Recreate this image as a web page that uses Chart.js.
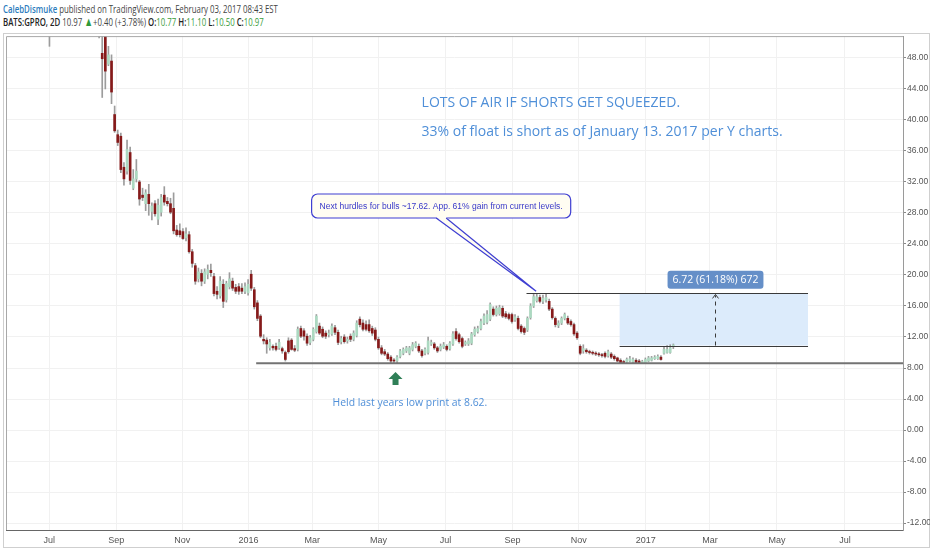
<!DOCTYPE html>
<html>
<head>
<meta charset="utf-8">
<title>GPRO 2D</title>
<script src="https://cdn.jsdelivr.net/npm/chart.js@4.4.1/dist/chart.umd.min.js"></script>
<style>
    html, body { margin: 0; padding: 0; background: #fff; }
    body { width: 932px; height: 550px; position: relative; overflow: hidden;
        font-family: "Open Sans", "Liberation Sans", Arial, sans-serif; }
    #head { position: absolute; left: 3px; top: 2px; font-size: 11.5px; line-height: 13px; color: #444; white-space: nowrap;
        transform: scaleX(0.68); transform-origin: 0 0; }
    #head .user { color: #2b7bbd; font-weight: 600; }
    #head b { color: #222; font-weight: 600; }
    #head .g { color: #3a9d3a; }
    #head .tri { color: #2f9a3a; font-size: 13px; }
    #frame { position: absolute; left: 3px; top: 33px; width: 927px; height: 515px; border: 1px solid #cfcfcf; box-sizing: border-box; }
    #wrap { position: absolute; left: 3px; top: 30px; width: 927px; height: 518px; }
</style>
</head>
<body>
<div id="head">
    <div><span class="user">CalebDismuke</span> published on TradingView.com, February 03, 2017 08:43 EST</div>
    <div id="quote"></div>
</div>
<div id="frame"></div>
<div id="wrap"><canvas id="chart"></canvas></div>
<script>
// 2-day GPRO candles, bar index 0 = left edge of the chart
const firstBar = 0;
const opens = [
    53.0, 53.6, 54.8, 55.3, 54.5, 56.1, 57.3, 58.4, 58.0, 56.6, 57.1, 55.4, 54.0, 52.9, 51.9, 52.6, 54.1, 55.8, 57.6, 59.4,
    61.2, 63.0, 63.8, 62.4, 60.7, 59.9, 58.3, 57.0, 55.7, 54.3, 53.1, 48.6, 51.4, 47.2, 47.6, 40.7, 38.1, 37.9, 33.9, 33.4,
    35.8, 31.2, 32.4, 32.0, 30.3, 29.2, 30.4, 28.2, 29.2, 27.2, 28.1, 30.3, 29.5, 29.2, 28.6, 25.8, 25.7, 25.6, 24.8, 25.2,
    23.0, 21.2, 19.5, 20.2, 19.2, 20.1, 20.6, 19.8, 17.9, 17.3, 18.8, 16.8, 18.5, 19.2, 18.4, 18.5, 18.3, 17.9, 17.7, 20.1,
    18.1, 16.4, 14.7, 11.7, 11.6, 10.6, 10.8, 10.8, 10.6, 10.5, 10.0, 11.5, 11.6, 10.5, 10.4, 13.1, 12.8, 12.1, 11.3, 11.7,
    12.7, 13.4, 13.0, 12.5, 12.3, 12.4, 13.2, 12.6, 11.4, 12.0, 11.5, 12.1, 11.7, 12.2, 14.3, 13.8, 13.6, 13.6, 13.1, 12.9,
    11.7, 10.6, 10.1, 9.8, 9.4, 9.0, 8.9, 9.5, 9.9, 10.2, 9.9, 10.4, 10.8, 10.8, 10.2, 9.9, 10.0, 11.1, 11.1, 10.6,
    10.4, 10.7, 10.8, 10.5, 11.1, 12.7, 12.3, 11.8, 11.1, 11.1, 11.2, 12.3, 12.7, 13.1, 13.8, 13.9, 14.3, 15.6, 14.9, 15.0,
    15.7, 15.0, 14.9, 14.9, 14.2, 14.4, 13.4, 13.1, 12.9, 14.5, 16.0, 16.7, 17.1, 16.6, 16.8, 16.6, 15.6, 14.4, 13.5, 13.8,
    14.4, 14.4, 14.0, 13.6, 12.5, 10.8, 10.2, 10.3, 10.1, 10.0, 9.9, 9.8, 9.7, 9.9, 9.6, 9.8, 9.5, 9.3, 9.0, 8.8,
    8.8, 8.9, 8.8, 9.0, 8.9, 8.7, 8.7, 8.9, 9.0, 9.2, 9.2, 9.4, 9.9, 10.0, 10.0, 10.77
];
const highs = [
    54.4, 55.2, 56.0, 55.9, 56.6, 57.8, 58.9, 59.6, 58.3, 57.5, 57.4, 55.9, 54.6, 53.5, 53.2, 54.6, 56.2, 58.0, 59.9, 61.7,
    63.6, 64.9, 64.4, 62.9, 61.3, 60.4, 58.8, 57.6, 56.2, 55.0, 54.5, 51.8, 52.4, 49.5, 48.4, 41.8, 38.7, 38.3, 34.5, 37.4,
    36.5, 33.6, 34.9, 32.2, 31.2, 31.0, 31.7, 29.3, 29.6, 29.8, 30.4, 31.4, 30.0, 29.9, 30.6, 26.4, 26.6, 26.0, 26.1, 25.6,
    23.3, 21.5, 20.9, 20.7, 20.8, 21.3, 21.4, 20.2, 18.5, 19.8, 19.4, 19.2, 20.3, 19.6, 18.8, 18.9, 18.9, 19.0, 19.4, 20.6,
    18.4, 16.7, 14.9, 12.3, 11.9, 11.7, 11.0, 11.2, 11.7, 10.7, 10.2, 11.9, 11.8, 10.9, 13.3, 13.4, 13.1, 12.4, 12.2, 13.2,
    14.9, 13.8, 13.3, 12.8, 12.9, 13.7, 13.5, 12.9, 12.1, 12.3, 12.0, 12.4, 12.8, 14.1, 14.6, 14.2, 14.1, 14.2, 13.4, 13.2,
    12.0, 10.9, 10.4, 10.0, 9.6, 9.2, 9.6, 10.4, 10.6, 10.8, 10.8, 11.3, 11.4, 11.1, 10.4, 10.6, 12.0, 11.6, 11.3, 10.8,
    11.1, 11.3, 11.0, 11.4, 12.7, 13.1, 12.5, 12.0, 11.5, 11.8, 12.6, 13.3, 13.4, 14.3, 15.0, 15.4, 16.4, 15.9, 16.0, 16.1,
    16.0, 15.3, 15.1, 15.1, 14.9, 14.7, 13.6, 13.3, 14.6, 16.3, 17.5, 17.5, 17.4, 17.4, 17.62, 16.9, 15.8, 14.6, 14.1, 14.6,
    15.1, 14.7, 14.2, 13.8, 12.7, 11.0, 11.0, 10.5, 10.3, 10.2, 10.1, 10.0, 9.9, 10.1, 10.3, 10.0, 9.7, 9.4, 9.2, 9.0,
    9.3, 9.5, 9.3, 9.2, 9.1, 9.0, 9.3, 9.5, 9.5, 9.6, 9.7, 9.6, 10.7, 10.9, 11.0, 11.10
];
const lows = [
    52.1, 53.0, 54.1, 53.9, 54.2, 55.7, 56.8, 57.6, 56.2, 55.8, 55.0, 53.6, 52.5, 51.4, 49.5, 52.2, 53.7, 55.3, 57.1, 58.9,
    60.8, 62.1, 61.9, 60.2, 59.4, 57.9, 56.6, 55.3, 53.8, 52.6, 50.6, 42.9, 44.0, 47.0, 42.1, 38.4, 36.7, 33.2, 31.6, 33.0,
    31.7, 31.0, 32.0, 29.0, 29.6, 28.3, 27.7, 27.1, 27.6, 26.5, 27.6, 29.0, 28.9, 27.9, 25.3, 25.0, 24.9, 24.6, 24.4, 22.8,
    21.0, 18.8, 19.1, 18.6, 18.9, 19.5, 19.8, 17.3, 16.9, 17.0, 15.8, 16.5, 18.2, 18.0, 17.6, 17.5, 17.6, 17.6, 17.4, 18.0,
    15.6, 14.1, 11.9, 11.1, 9.9, 10.3, 10.3, 10.2, 10.4, 9.9, 8.9, 9.9, 10.3, 10.1, 10.2, 11.9, 11.6, 10.9, 11.0, 11.5,
    12.5, 12.3, 11.9, 11.8, 12.0, 12.2, 12.3, 11.0, 11.1, 11.2, 11.2, 11.4, 11.5, 12.0, 13.3, 12.8, 12.8, 12.6, 12.2, 11.5,
    10.4, 9.7, 9.6, 9.0, 8.7, 8.62, 8.7, 9.3, 9.7, 10.0, 9.7, 10.2, 10.6, 10.0, 9.4, 9.7, 9.8, 10.9, 10.4, 10.0,
    10.2, 10.5, 10.2, 10.3, 10.9, 11.6, 11.2, 10.6, 10.9, 10.9, 11.0, 12.1, 12.5, 12.9, 13.6, 13.7, 14.1, 14.7, 14.7, 14.8,
    14.5, 14.4, 14.2, 13.8, 14.0, 12.9, 12.5, 12.3, 12.7, 14.3, 15.8, 16.5, 16.4, 16.3, 16.5, 15.4, 14.3, 13.3, 13.2, 13.6,
    14.2, 13.6, 13.4, 12.2, 11.7, 9.7, 9.9, 9.9, 9.8, 9.7, 9.6, 9.5, 9.4, 9.3, 9.4, 9.2, 9.0, 8.8, 8.62, 8.62,
    8.7, 8.8, 8.7, 8.62, 8.62, 8.62, 8.65, 8.8, 8.9, 9.1, 9.1, 9.0, 9.8, 9.9, 9.9, 10.50
];
const closes = [
    53.6, 54.8, 55.3, 54.5, 56.1, 57.3, 58.4, 58.0, 56.6, 57.1, 55.4, 54.0, 52.9, 51.9, 52.6, 54.1, 55.8, 57.6, 59.4, 61.2,
    63.0, 63.8, 62.4, 60.7, 59.9, 58.3, 57.0, 55.7, 54.3, 53.1, 52.3, 47.9, 46.3, 48.4, 43.6, 38.6, 37.1, 33.6, 32.4, 36.2,
    32.2, 32.4, 33.4, 29.8, 30.0, 30.6, 29.2, 28.9, 27.9, 29.0, 30.0, 29.4, 29.2, 28.1, 25.7, 25.2, 25.2, 24.7, 25.3, 23.0,
    21.5, 19.2, 20.4, 19.2, 20.4, 20.7, 20.3, 17.6, 17.5, 19.2, 16.6, 18.9, 19.5, 18.3, 17.9, 17.9, 17.9, 18.5, 18.8, 18.3,
    15.9, 14.4, 12.1, 11.5, 11.1, 11.3, 10.6, 10.4, 11.3, 10.2, 9.1, 10.1, 10.4, 10.3, 13.0, 12.1, 12.1, 11.2, 11.9, 13.0,
    14.7, 12.5, 12.1, 12.1, 12.5, 13.4, 12.6, 11.3, 11.8, 11.4, 11.7, 11.7, 12.5, 13.8, 13.6, 13.0, 13.0, 12.8, 12.5, 11.7,
    10.6, 9.9, 9.8, 9.2, 8.9, 8.9, 9.4, 10.2, 10.4, 10.6, 10.6, 11.0, 11.2, 10.2, 9.6, 10.4, 11.5, 11.3, 10.6, 10.2,
    10.8, 11.0, 10.4, 11.2, 12.4, 11.8, 11.4, 10.8, 11.3, 11.5, 12.4, 13.0, 13.1, 14.0, 14.7, 14.9, 16.2, 14.9, 15.7, 15.8,
    14.7, 14.6, 14.4, 14.0, 14.6, 13.1, 12.7, 12.6, 14.4, 16.0, 17.2, 17.2, 16.6, 17.0, 17.1, 15.6, 14.5, 13.6, 13.8, 14.4,
    14.9, 13.8, 13.6, 12.4, 11.9, 9.9, 10.5, 10.1, 10.0, 9.9, 9.8, 9.7, 9.6, 9.5, 10.1, 9.4, 9.2, 8.9, 8.7, 8.7,
    9.1, 9.2, 9.1, 8.7, 8.7, 8.8, 9.1, 9.3, 9.3, 9.4, 9.5, 9.1, 10.4, 10.4, 10.6, 10.97
];

// axis: month labels and the bar index each one sits on
const monthLabels = ['Jul', 'Sep', 'Nov', '2016', 'Mar', 'May', 'Jul', 'Sep', 'Nov', '2017', 'Mar', 'May', 'Jul'];
const monthBars = [13.9, 35.5, 56.8, 78.1, 98.7, 120.0, 141.6, 163.2, 184.5, 206.1, 226.8, 248.4, 270.3];
const priceTicks = [-12, -8, -4, 0, 4, 8, 12, 16, 20, 24, 28, 32, 36, 40, 44, 48];

// drawn levels
const supportLevel = 8.62;
const hurdleLevel = 17.62;
const rangeLow = 10.90;

const barIndex = closes.map((c, i) => firstBar + i);
const last = closes.length - 1;

document.getElementById('quote').innerHTML =
    '<b>BATS:GPRO, 2D</b> ' + closes[last].toFixed(2) + ' <span class="tri">&#9650;</span>+0.40 (+3.78%) ' +
    '<b>O:</b><span class="g">' + opens[last].toFixed(2) + '</span> ' +
    '<b>H:</b><span class="g">' + highs[last].toFixed(2) + '</span> ' +
    '<b>L:</b><span class="g">' + lows[last].toFixed(2) + '</span> ' +
    '<b>C:</b><span class="g">' + closes[last].toFixed(2) + '</span>';

function roundRect(ctx, x, y, w, h, r) {
    ctx.beginPath();
    ctx.moveTo(x + r, y);
    ctx.arcTo(x + w, y, x + w, y + h, r);
    ctx.arcTo(x + w, y + h, x, y + h, r);
    ctx.arcTo(x, y + h, x, y, r);
    ctx.arcTo(x, y, x + w, y, r);
    ctx.closePath();
}

const drawings = {
    id: 'drawings',
    beforeDatasetsDraw(chart) {
        const ctx = chart.ctx, xs = chart.scales.x, ys = chart.scales.y;
        // projected range box
        const x1 = xs.getPixelForValue(197.7), x2 = xs.getPixelForValue(258.4);
        ctx.save();
        ctx.fillStyle = '#dcebfb';
        ctx.fillRect(x1, ys.getPixelForValue(hurdleLevel), x2 - x1, ys.getPixelForValue(rangeLow) - ys.getPixelForValue(hurdleLevel));
        ctx.restore();
    },
    afterDatasetsDraw(chart) {
        const ctx = chart.ctx, xs = chart.scales.x, ys = chart.scales.y, area = chart.chartArea;
        const X = v => xs.getPixelForValue(v), Y = v => ys.getPixelForValue(v);
        ctx.save();

        // plot frame top / left
        ctx.strokeStyle = '#a8a8a8';
        ctx.lineWidth = 1;
        ctx.beginPath();
        ctx.moveTo(area.left + 0.5, area.bottom);
        ctx.lineTo(area.left + 0.5, area.top + 0.5);
        ctx.lineTo(area.right, area.top + 0.5);
        ctx.stroke();

        // support line
        ctx.strokeStyle = '#737373';
        ctx.lineWidth = 2;
        ctx.beginPath();
        ctx.moveTo(X(80.6), Y(supportLevel));
        ctx.lineTo(area.right, Y(supportLevel));
        ctx.stroke();

        // hurdle and range lines
        ctx.strokeStyle = '#3a3a3a';
        ctx.lineWidth = 1;
        ctx.beginPath();
        ctx.moveTo(X(167.7), Math.round(Y(hurdleLevel)) + 0.5);
        ctx.lineTo(X(258.4), Math.round(Y(hurdleLevel)) + 0.5);
        ctx.moveTo(X(197.7), Math.round(Y(rangeLow)) + 0.5);
        ctx.lineTo(X(258.4), Math.round(Y(rangeLow)) + 0.5);
        ctx.stroke();

        // dashed measure arrow
        const ax = Math.round(X(228.4)) + 0.5;
        ctx.setLineDash([4, 4]);
        ctx.beginPath();
        ctx.moveTo(ax, Y(rangeLow));
        ctx.lineTo(ax, Y(hurdleLevel) + 2);
        ctx.stroke();
        ctx.setLineDash([]);
        ctx.beginPath();
        ctx.moveTo(ax - 3, Y(hurdleLevel) + 5);
        ctx.lineTo(ax, Y(hurdleLevel) + 1);
        ctx.lineTo(ax + 3, Y(hurdleLevel) + 5);
        ctx.stroke();

        // measure label
        ctx.font = '10.5px "Open Sans", sans-serif';
        const mText = '6.72 (61.18%) 672';
        const mw = ctx.measureText(mText).width + 10;
        const my = Y(19.4);
        ctx.fillStyle = '#658fc8';
        roundRect(ctx, ax - mw / 2, my - 9, mw, 18, 3);
        ctx.fill();
        ctx.fillStyle = '#fff';
        ctx.textAlign = 'center';
        ctx.textBaseline = 'middle';
        ctx.fillText(mText, ax, my + 0.5);

        // callout
        ctx.font = '8.5px "Liberation Sans", sans-serif';
        const cText = 'Next hurdles for bulls ~17.62. App. 61% gain from current levels.';
        const cw = ctx.measureText(cText).width + 16;
        const cx = X(140.2), cy = Y(28.9);
        const bx = cx - cw / 2, by = cy - 12, bh = 24;
        const tipX = X(170.8), tipY = Y(17.9);
        ctx.fillStyle = '#fffdf2';
        ctx.strokeStyle = '#3f3fd2';
        ctx.lineWidth = 1.2;
        roundRect(ctx, bx, by, cw, bh, 6);
        ctx.fill();
        ctx.stroke();
        ctx.beginPath();
        ctx.moveTo(cx - 5, by + bh - 1);
        ctx.lineTo(tipX, tipY);
        ctx.lineTo(cx + 5, by + bh - 1);
        ctx.closePath();
        ctx.fill();
        ctx.beginPath();
        ctx.moveTo(cx - 5, by + bh);
        ctx.lineTo(tipX, tipY);
        ctx.lineTo(cx + 5, by + bh);
        ctx.stroke();
        ctx.fillStyle = '#3838c8';
        ctx.fillText(cText, cx, cy + 0.5);

        // notes
        ctx.fillStyle = '#4f8fd8';
        ctx.textAlign = 'left';
        ctx.font = '14px "Open Sans", sans-serif';
        ctx.fillText('LOTS OF AIR IF SHORTS GET SQUEEZED.', X(133.9), Y(42.2));
        ctx.fillText('33% of float is short as of January 13. 2017 per Y charts.', X(133.9), Y(38.4));
        ctx.font = '10.4px "Open Sans", sans-serif';
        ctx.fillText('Held last years low print at 8.62.', X(105.2), Y(3.5));

        // green up arrow under the May low
        const gx = X(125.5), gt = Y(7.5), gb = Y(5.8);
        ctx.fillStyle = '#2f7f57';
        ctx.beginPath();
        ctx.moveTo(gx, gt);
        ctx.lineTo(gx + 7, gt + 7);
        ctx.lineTo(gx + 3, gt + 7);
        ctx.lineTo(gx + 3, gb);
        ctx.lineTo(gx - 3, gb);
        ctx.lineTo(gx - 3, gt + 7);
        ctx.lineTo(gx - 7, gt + 7);
        ctx.closePath();
        ctx.fill();

        ctx.restore();
    }
};

const up = i => closes[i] >= opens[i];

new Chart(document.getElementById('chart'), {
    type: 'bar',
    data: {
        datasets: [{
            label: 'wick',
            data: barIndex.map((x, i) => ({ x: x, y: [lows[i], highs[i]] })),
            backgroundColor: '#9c9c9c',
            barThickness: 1,
            grouped: false,
            order: 2,
            clip: 0
        }, {
            label: 'body',
            data: barIndex.map((x, i) => ({ x: x, y: [opens[i], closes[i]] })),
            backgroundColor: c => up(c.dataIndex) ? '#acd9c1' : '#861a1a',
            barThickness: 2,
            minBarLength: 1,
            grouped: false,
            order: 1,
            clip: 0
        }]
    },
    options: {
        responsive: true,
        maintainAspectRatio: false,
        animation: false,
        layout: { padding: { left: 3, top: 3 } },
        plugins: { legend: { display: false }, tooltip: { enabled: false } },
        scales: {
            x: {
                type: 'linear',
                min: 0,
                max: 289,
                offset: false,
                grid: { color: '#f1f1f1', offset: false, drawTicks: false },
                border: { color: '#666' },
                afterBuildTicks: s => { s.ticks = monthBars.map(v => ({ value: v })); },
                afterFit: s => { s.height = 18; },
                ticks: {
                    autoSkip: false,
                    maxRotation: 0,
                    padding: 5,
                    color: '#555',
                    font: { family: '"Liberation Sans", sans-serif', size: 9 },
                    callback: (v, i) => monthLabels[i]
                }
            },
            y: {
                type: 'linear',
                position: 'right',
                min: -12.9,
                max: 50.82,
                grid: { color: '#f1f1f1', tickLength: 3, tickColor: '#888' },
                border: { color: '#9a9a9a' },
                afterBuildTicks: s => { s.ticks = priceTicks.map(v => ({ value: v })); },
                afterFit: s => { s.width = 27; },
                ticks: {
                    padding: 1,
                    color: '#555',
                    font: { family: '"Liberation Sans", sans-serif', size: 8.5 },
                    callback: v => v.toFixed(2)
                }
            }
        }
    },
    plugins: [drawings]
});
</script>
</body>
</html>
